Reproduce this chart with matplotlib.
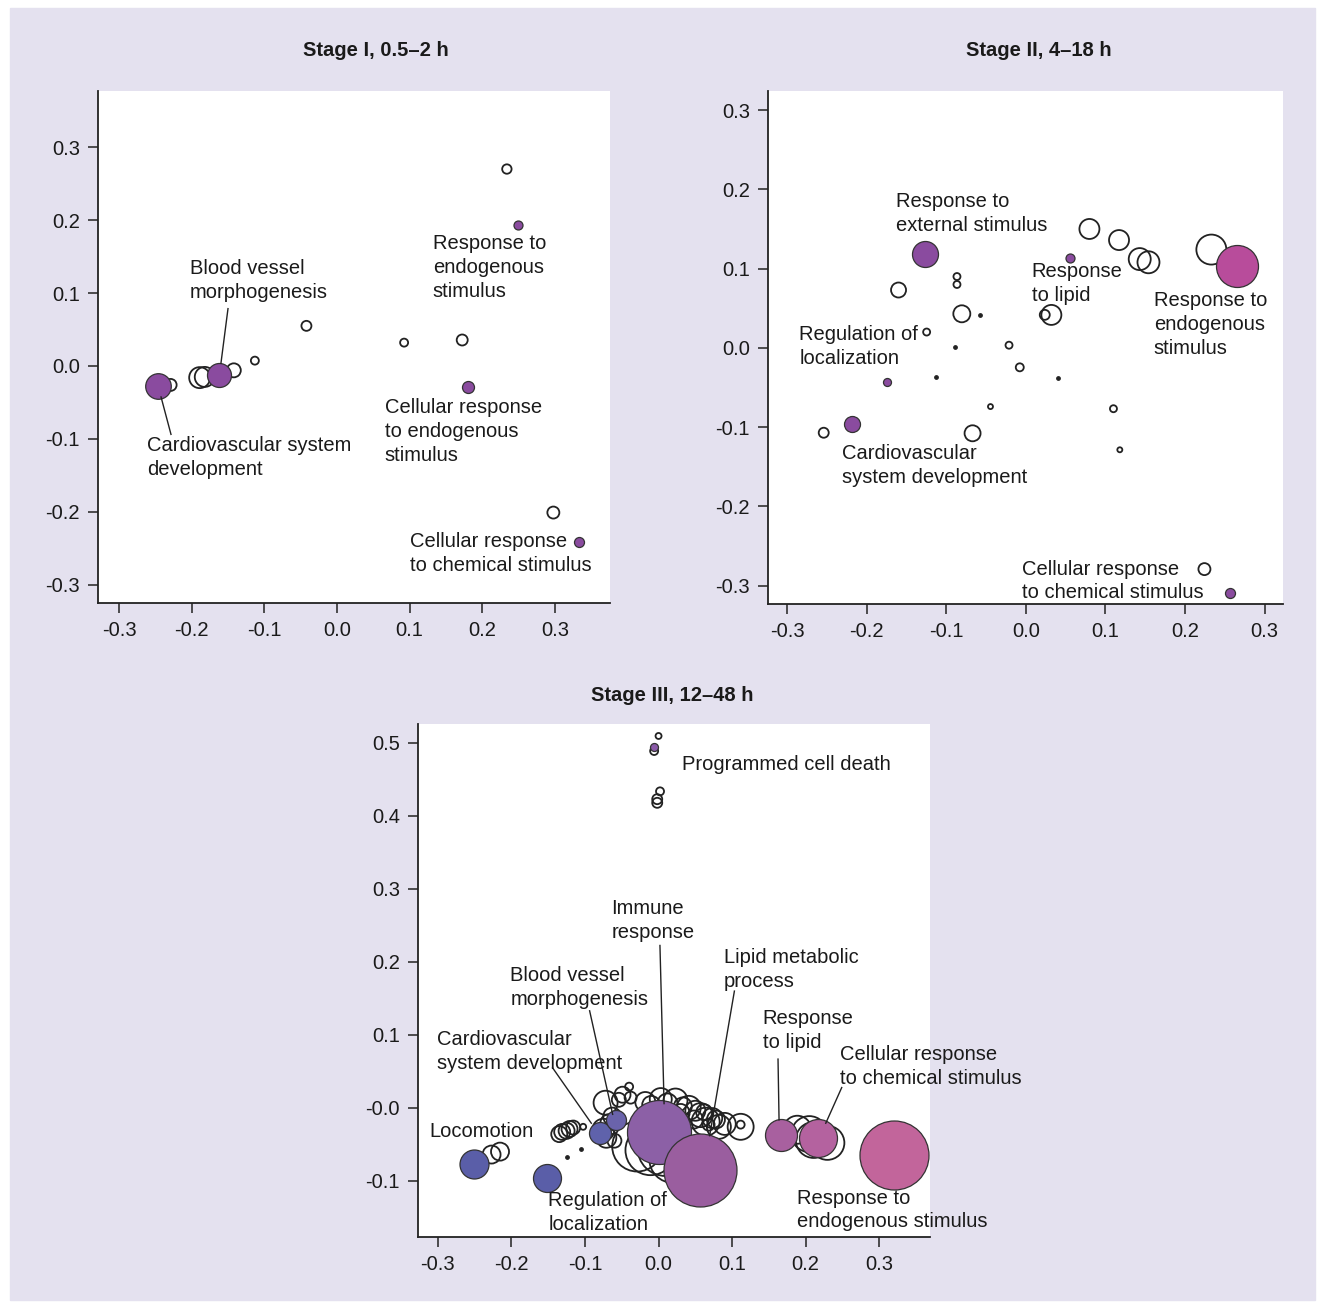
import matplotlib
matplotlib.use("Agg")
import matplotlib.pyplot as plt
from matplotlib.patches import Rectangle

plt.rcParams['font.family'] = ['Liberation Sans', 'DejaVu Sans']

# ---- Stage I data (x, y, bubble radius, fill) ----
s1_x = [0.234, -0.042, 0.0925, 0.1725, -0.113, -0.229, -0.189, -0.182, -0.142, 0.298,
        0.2497, 0.180, -0.246, -0.163, 0.333]
s1_y = [0.270, 0.055, 0.032, 0.0356, 0.0073, -0.026, -0.016, -0.015, -0.006, -0.201,
        0.193, -0.0295, -0.027, -0.012, -0.241]
s1_r = [4.7, 5, 4, 5.5, 4, 6, 10.5, 10, 7, 6,
        4.5, 6, 12.8, 12, 5]
s1_fill = [None] * 10 + ['#8a4b9f', '#8a4b9f', '#8a4b9f', '#8a4b9f', '#8a4b9f']

s1_labels = ["Blood vessel\nmorphogenesis", "Cardiovascular system\ndevelopment",
             "Response to\nendogenous\nstimulus", "Cellular response\nto endogenous\nstimulus",
             "Cellular response\nto chemical stimulus"]
s1_lab_x = [-0.2023, -0.2615, 0.132, 0.066, 0.1003]
s1_lab_y = [0.1178, -0.126, 0.1356, -0.0904, -0.2575]
s1_lines = [((-0.150, 0.0786), (-0.1597, 0.0038)), ((-0.2422, -0.0425), (-0.2285, -0.0938))]

# ---- Stage II data ----
s2_x = [0.0798, 0.117, 0.143, 0.154, 0.233, -0.160, -0.0866, -0.0866, -0.0805, -0.0577,
        0.0237, 0.032, -0.1247, -0.0886, -0.0212, -0.0077, -0.1128, 0.0403, -0.0445, 0.110,
        -0.254, -0.067, 0.118, 0.2243,
        0.265, 0.0556, -0.127, -0.1743, -0.2184, 0.2566]
s2_y = [0.150, 0.136, 0.112, 0.108, 0.124, 0.073, 0.090, 0.080, 0.043, 0.0416,
        0.0417, 0.0416, 0.020, 0.0013, 0.0034, -0.0245, -0.037, -0.0385, -0.074, -0.0767,
        -0.107, -0.1077, -0.1285, -0.279,
        0.103, 0.1137, 0.118, -0.043, -0.096, -0.309]
s2_r = [10, 10, 11, 11, 15, 7.5, 3.5, 3.5, 8.5, 1.2,
        5, 10, 3.5, 1.2, 3.5, 4, 1.2, 1.2, 2.5, 3.5,
        5, 8, 2.5, 6,
        21, 4.5, 13, 4, 8, 5]
s2_fill = [None] * 24 + ['#b84c9b', '#8a4b9f', '#8a4b9f', '#8a4b9f', '#8a4b9f', '#8a4b9f']

s2_labels = ["Response to\nexternal stimulus", "Response\nto lipid", "Response to\nendogenous\nstimulus",
             "Regulation of\nlocalization", "Cardiovascular\nsystem development",
             "Cellular response\nto chemical stimulus"]
s2_lab_x = [-0.163, 0.0075, 0.1606, -0.2848, -0.2309, -0.005]
s2_lab_y = [0.169, 0.0807, 0.029, 0.0013, -0.148, -0.294]

# ---- Stage III data ----
s3_x = [-0.227, -0.2155, -0.135, -0.131, -0.125, -0.121, -0.116, -0.1025, -0.125, -0.105,
        -0.072, -0.049, -0.040, -0.038, -0.054, -0.075, -0.071, -0.063, -0.029, -0.011,
        0.0095, -0.018, 0.003, 0.023, 0.041, 0.057, 0.064, 0.073, 0.082, 0.068,
        0.1116, 0.1116, 0.1887, 0.211, 0.2295, 0.030, 0.048,
        -0.010, 0.012, 0.033, 0.050, 0.062, 0.078, 0.090, -0.068, -0.060, 0.205, 0.020,
        0.0, -0.006, 0.002, -0.0018, -0.0018,
        -0.2515, -0.151, -0.080, -0.058, 0.0, 0.0567, 0.166, 0.2167, 0.320, -0.006]
s3_y = [-0.064, -0.060, -0.036, -0.033, -0.0315, -0.029, -0.027, -0.026, -0.067, -0.057,
        0.007, 0.018, 0.029, 0.014, 0.011, -0.030, -0.041, -0.012, -0.053, -0.058,
        -0.055, 0.008, 0.012, 0.010, 0.0, -0.010, -0.019, -0.014, -0.026, -0.023,
        -0.026, -0.023, -0.030, -0.044, -0.048, -0.007, -0.016,
        0.004, 0.006, 0.002, -0.004, -0.006, -0.016, -0.022, -0.020, -0.045, -0.036, -0.070,
        0.5096, 0.489, 0.4337, 0.423, 0.418,
        -0.077, -0.0955, -0.035, -0.017, -0.033, -0.0856, -0.0367, -0.0416, -0.065, 0.494]
s3_r = [9, 9, 8, 8, 8, 8, 7, 3, 1.2, 1.2,
        12, 8, 4, 6, 7, 11, 10, 9, 25, 25,
        28, 10, 11, 12, 12, 12, 14, 10, 12, 6,
        13, 4, 14, 18, 17, 9, 9,
        9, 10, 9, 10, 8, 9, 11, 8, 7, 18, 24,
        3, 4, 4, 5, 5,
        14.5, 14, 11, 10, 32, 36.5, 16, 19, 34.5, 4]
s3_fill = [None] * 53 + ['#5a5ea8', '#5a5ea8', '#5f62ab', '#6a63ab', '#8c60a6', '#9a5e9f',
                         '#a8609f', '#b4629f', '#c2659b', '#8a5aa8']

s3_labels = ["Programmed cell death", "Immune\nresponse", "Lipid metabolic\nprocess",
             "Blood vessel\nmorphogenesis", "Response\nto lipid", "Cardiovascular\nsystem development",
             "Cellular response\nto chemical stimulus", "Locomotion", "Regulation of\nlocalization",
             "Response to\nendogenous stimulus"]
s3_lab_x = [0.0313, -0.064, 0.0884, -0.2014, 0.1415, -0.3007, 0.2463, -0.3116, -0.1497, 0.1878]
s3_lab_y = [0.471, 0.257, 0.190, 0.165, 0.106, 0.0774, 0.0568, -0.0329, -0.143, -0.140]
s3_lines = [((0.0019, 0.2225), (0.0075, 0.0058)), ((0.1031, 0.160), (0.0695, -0.0382)),
            ((-0.0937, 0.133), (-0.0624, -0.0089)), ((-0.144, 0.0548), (-0.0914, -0.0211)),
            ((0.1624, 0.0668), (0.1638, -0.0164)), ((0.249, 0.0278), (0.2273, -0.0211))]

ticks = [-0.3, -0.2, -0.1, 0.0, 0.1, 0.2, 0.3]
tick_labels = ['-0.3', '-0.2', '-0.1', '0.0', '0.1', '0.2', '0.3']
s3_yticks = [-0.1, 0.0, 0.1, 0.2, 0.3, 0.4, 0.5]
s3_ytick_labels = ['-0.1', '-0.0', '0.1', '0.2', '0.3', '0.4', '0.5']

W, H = 1320, 1305
fig = plt.figure(figsize=(W / 100, H / 100), dpi=100)
bg = Rectangle((10 / W, 1 - 1300 / H), 1305 / W, 1292 / H,
               transform=fig.transFigure, color='#e4e1ef', zorder=-10)
fig.add_artist(bg)

FS = 14.5


def make_ax(left, top, right, bottom):
    ax = fig.add_axes([left / W, 1 - bottom / H, (right - left) / W, (bottom - top) / H])
    ax.set_facecolor('white')
    for s in ['top', 'right']:
        ax.spines[s].set_visible(False)
    for s in ['left', 'bottom']:
        ax.spines[s].set_linewidth(1.3)
        ax.spines[s].set_color('#222222')
    ax.tick_params(direction='out', length=7, width=1.1, color='#222222',
                   labelsize=FS, pad=6, labelcolor='#1a1a1a')
    return ax


def bubbles(ax, xs, ys, rs, fills):
    # open circles first, filled ones on top
    for want_fill in (False, True):
        for x, y, r, f in zip(xs, ys, rs, fills):
            if (f is not None) != want_fill:
                continue
            size = (2 * r * 0.72) ** 2
            if r < 2:
                ax.scatter(x, y, s=size * 2, color='#222222', zorder=3, clip_on=False)
            elif f is None:
                ax.scatter(x, y, s=size, facecolor='none', edgecolor='#222222',
                           linewidth=1.3, zorder=3, clip_on=False)
            else:
                ax.scatter(x, y, s=size, facecolor=f, edgecolor='#333333',
                           linewidth=0.9, zorder=4, clip_on=False)


def labels(ax, texts, lx, ly):
    for t, x, y in zip(texts, lx, ly):
        ax.text(x, y, t, fontsize=FS, ha='left', va='center', color='#1a1a1a',
                linespacing=1.33, zorder=5, clip_on=False)


# Stage I
ax1 = make_ax(98, 91, 610, 603)
bubbles(ax1, s1_x, s1_y, s1_r, s1_fill)
labels(ax1, s1_labels, s1_lab_x, s1_lab_y)
for (a, b) in s1_lines:
    ax1.plot([a[0], b[0]], [a[1], b[1]], color='#222222', lw=1, zorder=5)
ax1.set_xlim(-0.329, 0.376)
ax1.set_ylim(-0.325, 0.377)
ax1.set_xticks(ticks, tick_labels)
ax1.set_yticks(ticks, tick_labels)

# Stage II
ax2 = make_ax(768, 91, 1283, 604)
bubbles(ax2, s2_x, s2_y, s2_r, s2_fill)
labels(ax2, s2_labels, s2_lab_x, s2_lab_y)
ax2.set_xlim(-0.324, 0.323)
ax2.set_ylim(-0.323, 0.324)
ax2.set_xticks(ticks, tick_labels)
ax2.set_yticks(ticks, tick_labels)

# Stage III
ax3 = make_ax(418, 724, 930, 1237)
bubbles(ax3, s3_x, s3_y, s3_r, s3_fill)
labels(ax3, s3_labels, s3_lab_x, s3_lab_y)
for (a, b) in s3_lines:
    ax3.plot([a[0], b[0]], [a[1], b[1]], color='#222222', lw=1, zorder=5)
ax3.set_xlim(-0.327, 0.369)
ax3.set_ylim(-0.177, 0.526)
ax3.set_xticks(ticks, tick_labels)
ax3.set_yticks(s3_yticks, s3_ytick_labels)

# panel titles
for txt, px, py in [("Stage I, 0.5\u20132 h", 376, 50), ("Stage II, 4\u201318 h", 1039, 50),
                    ("Stage III, 12\u201348 h", 672, 695)]:
    fig.text(px / W, 1 - py / H, txt, fontsize=FS, fontweight='bold',
             ha='center', va='center', color='#1a1a1a')

fig.savefig("out.png", dpi=100, facecolor='white')
